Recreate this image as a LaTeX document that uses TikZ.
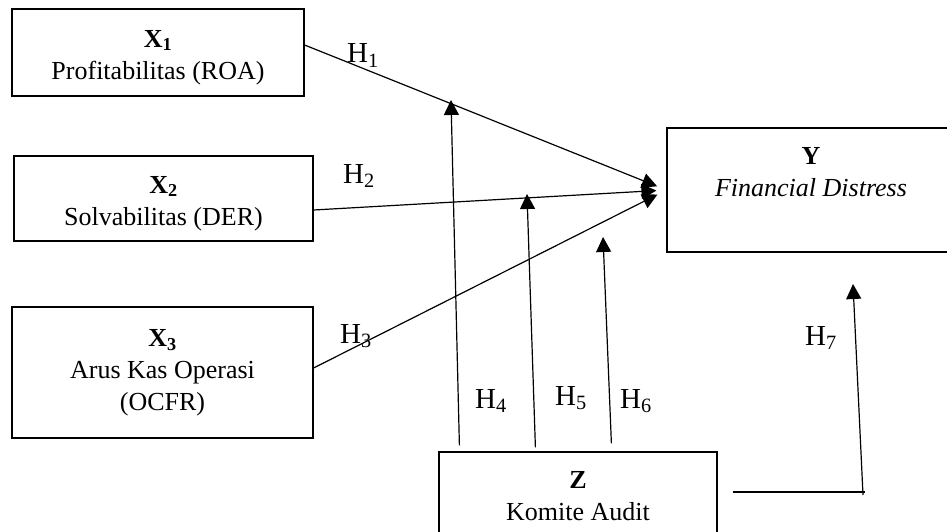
\documentclass[tikz,border=0pt]{standalone}
\usepackage{fontspec}
\setmainfont{Liberation Serif}
\usetikzlibrary{arrows.meta}
\newcommand{\boxfnt}{\fontsize{26}{32}\selectfont}
\newcommand{\hfnt}{\fontsize{29}{34}\selectfont}
\newcommand{\tallstrut}{\rule{0pt}{31pt}}
\begin{document}
\begin{tikzpicture}[x=1pt,y=1pt,
  box/.style={draw, line width=1.2pt, align=center, inner sep=0pt, font=\boxfnt},
  conn/.style={line width=1.2pt},
  arr/.style={line width=1.2pt, -{Triangle[length=15pt,width=15pt]}},
  hlab/.style={anchor=base west, inner sep=0pt, font=\hfnt}]
\useasboundingbox (0,0) rectangle (947,-532);
\clip (0,0) rectangle (947,-532);
% boxes
\node[box, minimum width=292pt, minimum height=87pt] (X1) at (158,-52.5)
  {\tallstrut\textbf{X\textsubscript{1}}\\\strut Profitabilitas (ROA)};
\node[box, minimum width=299pt, minimum height=85pt] (X2) at (163.5,-198.5)
  {\tallstrut\textbf{X\textsubscript{2}}\\\strut Solvabilitas (DER)};
\node[box, minimum width=301pt, minimum height=131pt] (X3) at (162.5,-372.5)
  {\strut\textbf{X\textsubscript{3}}\\\strut Arus Kas Operasi\\\strut (OCFR)};
\node[box, minimum width=288pt, minimum height=124pt] (Y) at (811,-190)
  {\strut\textbf{Y}\\\strut\textit{Financial Distress}\\\strut};
\node[box, minimum width=278pt, minimum height=124pt] (Z) at (578,-514)
  {\strut\textbf{Z}\\\strut Komite Audit\\\strut};
% free ends
\coordinate (t4) at (451,-100);
\coordinate (t5) at (527,-194);
\coordinate (t6) at (603,-237);
\coordinate (t7) at (853,-284);
\coordinate (c7) at (865,-492);
\coordinate (c7b) at (863,-495);
% main paths
\draw[arr, shorten >=10pt] ([yshift=7.5pt]X1.east) -- (Y.west);
\draw[arr, shorten >=10pt] ([yshift=-11.5pt]X2.east) -- (Y.west);
\draw[arr, shorten >=10pt] ([yshift=4.5pt]X3.east) -- (Y.west);
% moderation arrows
\draw[arr] ([xshift=21pt,yshift=6pt]Z.north west) -- (t4);
\draw[arr] ([xshift=97pt,yshift=4pt]Z.north west) -- (t5);
\draw[arr] ([xshift=173pt,yshift=8pt]Z.north west) -- (t6);
\draw[conn] ([xshift=15pt,yshift=22pt]Z.east) -- (c7);
\draw[arr] (c7b) -- (t7);
% labels
\node[hlab] (h1) at (347,-63) {H\textsubscript{1}};
\node[hlab] (h2) at (343,-183) {H\textsubscript{2}};
\node[hlab] (h3) at (340,-343) {H\textsubscript{3}};
\node[hlab] (h4) at (475,-408) {H\textsubscript{4}};
\node[hlab] (h5) at (555,-405) {H\textsubscript{5}};
\node[hlab] (h6) at (620,-408) {H\textsubscript{6}};
\node[hlab] (h7) at (805,-345) {H\textsubscript{7}};
\end{tikzpicture}
\end{document}
